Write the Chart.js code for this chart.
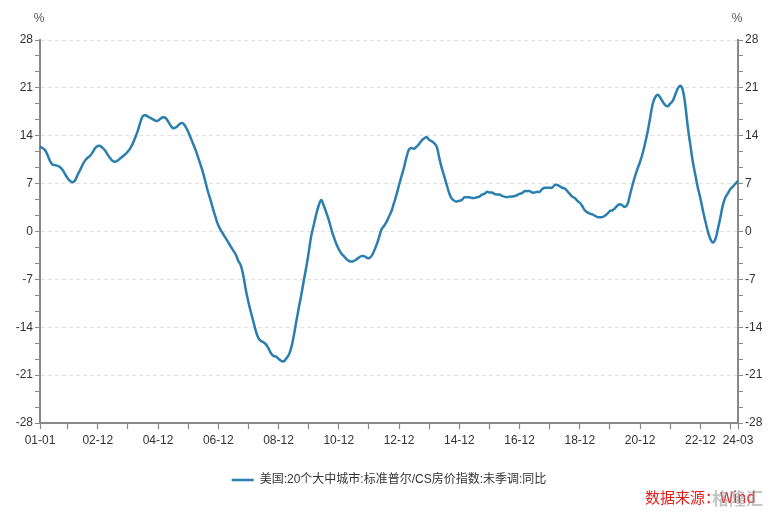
<!DOCTYPE html>
<html>
<head>
<meta charset="utf-8">
<script src="https://cdn.jsdelivr.net/npm/chart.js@4.4.1/dist/chart.umd.min.js"></script>
<style>
html,body{margin:0;padding:0;background:#fff;}
#wrap{position:relative;width:778px;height:517px;}
#fuente{position:absolute;left:645px;top:486px;font:15px "Noto Sans CJK SC",sans-serif;color:#e3211c;white-space:nowrap;}
#marca{position:absolute;left:712px;top:485px;font:bold 17px "Noto Sans CJK SC",sans-serif;color:rgba(150,150,150,0.55);white-space:nowrap;}
</style>
</head>
<body>
<div id="wrap">
<canvas id="canvas1" width="778" height="517"></canvas>
<div id="fuente">数据来源：Wind</div>
<div id="marca">格隆汇</div>
</div>
<script>
// 美国 20城 CS房价指数 同比 (%), 2001-01 .. 2024-03
var yoy = [
    12.4, 12.2, 11.9, 11.2, 10.3, 9.8, 9.7, 9.6, 9.4, 9.0, 8.4, 7.8,          // 2001
    7.4, 7.2, 7.5, 8.3, 9.0, 9.8, 10.4, 10.8, 11.1, 11.6, 12.2, 12.5,          // 2002
    12.5, 12.2, 11.8, 11.2, 10.7, 10.3, 10.2, 10.4, 10.7, 11.0, 11.3, 11.7,    // 2003
    12.2, 12.9, 13.8, 14.8, 16.0, 16.9, 17.0, 16.8, 16.6, 16.4, 16.2, 16.2,    // 2004
    16.5, 16.7, 16.6, 16.1, 15.5, 15.1, 15.2, 15.5, 15.8, 15.8, 15.3, 14.6,    // 2005
    13.7, 12.8, 11.9, 10.8, 9.7, 8.5, 7.1, 5.7, 4.5, 3.2, 2.0, 0.9,            // 2006
    0.2, -0.4, -1.0, -1.6, -2.2, -2.8, -3.4, -4.3, -5.0, -6.5, -8.6, -10.3,    // 2007
    -11.8, -13.2, -14.6, -15.6, -16.0, -16.2, -16.5, -17.1, -17.8, -18.2, -18.3, -18.6, // 2008
    -18.9, -19.0, -18.6, -18.1, -17.1, -15.4, -13.3, -11.3, -9.4, -7.3, -5.3, -3.1,     // 2009
    -0.7, 0.9, 2.5, 3.8, 4.6, 3.8, 2.8, 1.7, 0.4, -0.8, -1.8, -2.6,            // 2010
    -3.2, -3.6, -4.0, -4.3, -4.4, -4.3, -4.1, -3.8, -3.6, -3.6, -3.8, -3.9,    // 2011
    -3.6, -2.9, -2.0, -0.9, 0.3, 0.8, 1.4, 2.2, 3.0, 4.2, 5.4, 6.8,            // 2012
    8.1, 9.4, 10.9, 12.0, 12.2, 12.1, 12.4, 12.8, 13.3, 13.6, 13.8, 13.4,      // 2013
    13.2, 12.9, 12.4, 10.8, 9.3, 8.1, 6.8, 5.6, 4.8, 4.5, 4.4, 4.5,            // 2014
    4.6, 5.0, 5.0, 5.0, 4.9, 4.9, 5.0, 5.1, 5.4, 5.5, 5.8, 5.7,                // 2015
    5.7, 5.5, 5.4, 5.4, 5.2, 5.1, 5.0, 5.1, 5.1, 5.2, 5.3, 5.5,                // 2016
    5.6, 5.9, 5.9, 5.9, 5.7, 5.7, 5.8, 5.8, 6.2, 6.4, 6.4, 6.4,                // 2017
    6.4, 6.8, 6.8, 6.6, 6.4, 6.3, 5.9, 5.5, 5.1, 4.9, 4.5, 4.2,                // 2018
    3.7, 3.1, 2.8, 2.6, 2.5, 2.3, 2.1, 2.1, 2.1, 2.3, 2.6, 3.0,                // 2019
    3.1, 3.4, 3.8, 4.0, 3.8, 3.6, 4.0, 5.4, 6.8, 8.1, 9.2, 10.2,               // 2020
    11.4, 12.9, 14.6, 16.6, 18.6, 19.6, 20.0, 19.6, 19.0, 18.5, 18.3, 18.7,    // 2021
    19.1, 20.0, 20.9, 21.3, 20.7, 18.5, 15.3, 12.7, 10.2, 8.3, 6.4, 4.9,       // 2022
    3.1, 1.5, 0.0, -1.1, -1.6, -1.1, 0.4, 2.1, 3.9, 5.0, 5.6, 6.2,             // 2023
    6.6, 7.0, 7.4                                                              // 2024
];
var etiquetasX = ["01-01","02-12","04-12","06-12","08-12","10-12","12-12","14-12","16-12","18-12","20-12","22-12","24-03"];
var serieNombre = "美国:20个大中城市:标准普尔/CS房价指数:未季调:同比";
var yMin = -28, yMax = 28, yPaso = 7;

var meses = [];
for (var a = 2001; a <= 2024; a++) {
    for (var m = 1; m <= 12; m++) {
        if (meses.length < yoy.length) {
            meses.push(("0" + (a % 100)).slice(-2) + "-" + ("0" + m).slice(-2));
        }
    }
}

var fuenteTxt = '"Liberation Sans", Arial, "Noto Sans CJK SC", sans-serif';
var colorLinea = "#2a7fae";
var colorEje = "#888888";

function ticksY(scale) {
    var t = [];
    for (var i = 0; i <= (yMax - yMin) / yPaso * 3; i++) {
        t.push({value: yMin + i * yPaso / 3});
    }
    scale.ticks = t;
}
function labelY(value, index) {
    return index % 3 === 0 ? String(Math.round(value)) : "";
}

var porcentaje = {
    id: "porcentaje",
    afterDraw: function(chart) {
        var c = chart.ctx;
        c.save();
        c.font = "12px " + fuenteTxt;
        c.fillStyle = "#555";
        c.textAlign = "center";
        c.textBaseline = "middle";
        c.fillText("%", chart.chartArea.left - 1, chart.chartArea.top - 21);
        c.fillText("%", chart.chartArea.right - 1, chart.chartArea.top - 21);
        c.restore();
    }
};

var ctx = document.getElementById("canvas1");
new Chart(ctx, {
    type: "line",
    data: {
        labels: meses,
        datasets: [{
            label: serieNombre,
            data: yoy,
            borderColor: colorLinea,
            backgroundColor: colorLinea,
            borderWidth: 2.5,
            pointRadius: 0,
            tension: 0.4,
            fill: false,
            yAxisID: "y"
        }]
    },
    options: {
        animation: false,
        responsive: false,
        devicePixelRatio: 1,
        layout: {padding: {top: 40, bottom: 21, left: 0, right: 0}},
        plugins: {
            tooltip: {enabled: false},
            legend: {
                position: "bottom",
                labels: {
                    usePointStyle: true,
                    pointStyle: "line",
                    pointStyleWidth: 22,
                    color: "#333",
                    font: {size: 12, family: fuenteTxt},
                    padding: 10
                }
            }
        },
        scales: {
            x: {
                type: "category",
                offset: false,
                afterBuildTicks: function(scale) {
                    var t = [];
                    for (var i = 0; i < meses.length; i++) {
                        if (i === 0 || i === meses.length - 1 || meses[i].slice(-2) === "12") t.push({value: i});
                    }
                    scale.ticks = t;
                },
                afterFit: function(scale) { scale.height = 41; },
                grid: {drawOnChartArea: false, tickLength: 6, tickColor: colorEje, tickWidth: 1.2},
                border: {color: colorEje, width: 2},
                ticks: {
                    autoSkip: false,
                    maxRotation: 0,
                    padding: 4,
                    color: "#333",
                    font: {size: 12, family: fuenteTxt},
                    callback: function(value) {
                        var lab = meses[value];
                        return etiquetasX.indexOf(lab) >= 0 ? lab : "";
                    }
                }
            },
            y: {
                position: "left",
                min: yMin,
                max: yMax,
                afterBuildTicks: ticksY,
                afterFit: function(scale) { scale.width = 40; },
                grid: {
                    color: function(c) { return (c.index % 3 === 0 && c.index !== 0) ? "#e2e2e2" : "rgba(0,0,0,0)"; },
                    lineWidth: 1,
                    tickLength: 5,
                    tickColor: colorEje,
                    tickBorderDash: []
                },
                border: {color: colorEje, width: 2, dash: [4, 3]},
                ticks: {autoSkip: false, padding: 2, color: "#333", font: {size: 12, family: fuenteTxt}, callback: labelY}
            },
            y1: {
                position: "right",
                min: yMin,
                max: yMax,
                afterBuildTicks: ticksY,
                afterFit: function(scale) { scale.width = 40; },
                grid: {drawOnChartArea: false, tickLength: 5, tickColor: colorEje},
                border: {color: colorEje, width: 2},
                ticks: {autoSkip: false, padding: 2, color: "#333", font: {size: 12, family: fuenteTxt}, callback: labelY}
            }
        }
    },
    plugins: [porcentaje]
});
</script>
</body>
</html>
